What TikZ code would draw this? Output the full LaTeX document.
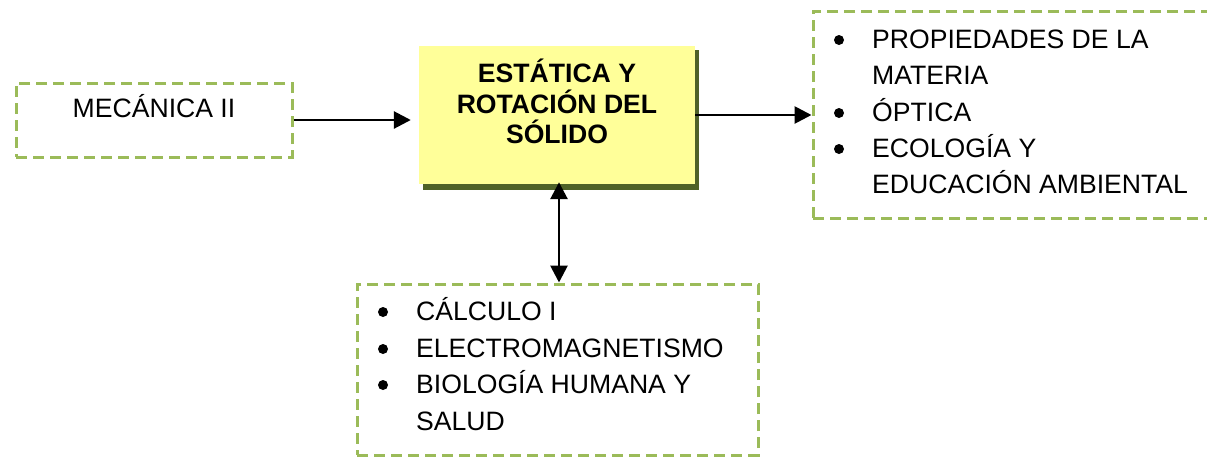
\documentclass[tikz,border=0pt]{standalone}
\usepackage{fontspec}
\setmainfont{Liberation Sans}
\usetikzlibrary{arrows.meta}
\definecolor{dashgreen}{HTML}{9BBB59}
\definecolor{shadowolive}{HTML}{4F6228}
\definecolor{boxyellow}{HTML}{FFFF99}
\tikzset{
  dashbox/.style={draw=dashgreen, line width=3pt, dash pattern=on 11pt off 6pt, inner sep=0pt},
  mainbox/.style={fill=boxyellow, inner sep=0pt},
  itemtext/.style={anchor=base west, inner sep=0pt, font=\fontsize{26.6}{31}\selectfont},
  titletext/.style={anchor=base, inner sep=0pt, font=\bfseries\fontsize{26.6}{31}\selectfont},
  bul/.style={circle, fill=black, inner sep=0pt, minimum size=10pt},
  arr/.style={line width=2.8pt, -{Triangle[length=17pt,width=17pt]}},
  darr/.style={line width=2.8pt, {Triangle[length=17pt,width=17pt]}-{Triangle[length=17pt,width=17pt]}}
}
\begin{document}
\begin{tikzpicture}[x=1pt,y=-1pt]
\clip (0,0) rectangle (1207,456);
\fill[white] (0,0) rectangle (1207,456);
% main box with shadow
\fill[shadowolive] (423,50) rectangle (699,190);
\node[mainbox, minimum width=276pt, minimum height=138pt] (main) at (557,115) {};
\node[titletext] (t1) at (557,82) {ESTÁTICA Y};
\node[titletext] (t2) at (557,113) {ROTACIÓN DEL};
\node[titletext] (t3) at (557,143) {SÓLIDO};
% left box
\node[dashbox, minimum width=276pt, minimum height=74pt] (mec) at (154,120) {};
\node[anchor=base, inner sep=0pt, font=\fontsize{26.6}{31}\selectfont] (mect) at (154,117) {MECÁNICA II};
% right box
\node[dashbox, minimum width=402pt, minimum height=207pt] (right) at (1014,114.5) {};
\node[bul] (rb1) at (839,40) {};
\node[itemtext] (r1) at (872,48) {PROPIEDADES DE LA};
\node[itemtext] (r2) at (872,84) {MATERIA};
\node[bul] (rb2) at (839,113) {};
\node[itemtext] (r3) at (872,121) {ÓPTICA};
\node[bul] (rb3) at (839,149) {};
\node[itemtext] (r4) at (872,157) {ECOLOGÍA Y};
\node[itemtext] (r5) at (872,193) {EDUCACIÓN AMBIENTAL};
% bottom box
\node[dashbox, minimum width=401pt, minimum height=171pt] (bot) at (557.5,369.5) {};
\node[bul] (bb1) at (383,312) {};
\node[itemtext] (b1) at (416,320) {CÁLCULO I};
\node[bul] (bb2) at (383,349) {};
\node[itemtext] (b2) at (416,357) {ELECTROMAGNETISMO};
\node[bul] (bb3) at (383,385) {};
\node[itemtext] (b3) at (416,393) {BIOLOGÍA HUMANA Y};
\node[itemtext] (b4) at (416,430) {SALUD};
% connectors
\draw[arr, shorten >=8pt] (mec.east) -- (mec.east -| main.west);
\draw[arr] (main.east) -- (main.east -| right.west);
\draw[darr, shorten <=-2pt] ([xshift=2pt]main.south) -- ([xshift=2pt]main.south |- bot.north);
\end{tikzpicture}
\end{document}
